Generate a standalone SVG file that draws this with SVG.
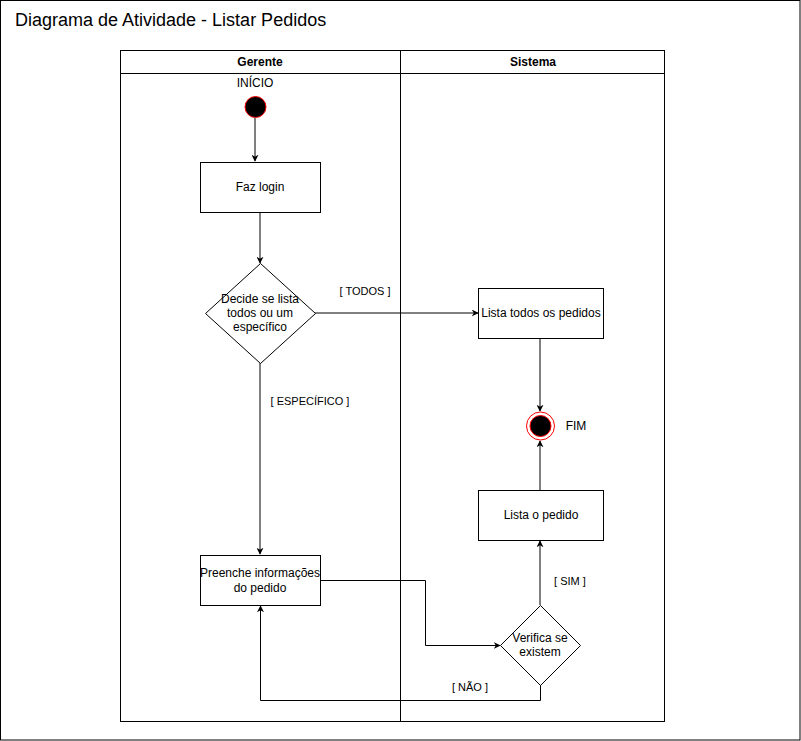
<svg xmlns="http://www.w3.org/2000/svg" width="801" height="741" viewBox="0 0 801 741">
<defs>
<style>
text{font-family:"Liberation Sans",Arial,Helvetica,sans-serif;font-size:12px;fill:#000}
.c{text-anchor:middle;dominant-baseline:central}
.box{fill:#fff;stroke:#000;stroke-width:1}
.edge{fill:none;stroke:#000;stroke-width:1}
.hdr{font-weight:bold;font-size:12px}
</style>
<marker id="arr" viewBox="0 0 10 10" refX="9" refY="5" markerWidth="7" markerHeight="7" orient="auto" markerUnits="userSpaceOnUse">
<path d="M0,0 L10,5 L0,10 L3,5 Z" fill="#000"/>
</marker>
</defs>
<rect x="0" y="0" width="801" height="741" fill="#fff"/>
<rect x="0.5" y="0.5" width="799.5" height="739.5" fill="none" stroke="#000"/>
<text x="15" y="26" style="font-size:18px">Diagrama de Atividade - Listar Pedidos</text>
<g id="pool">
<rect x="120.5" y="50.5" width="544" height="671" class="box"/>
<line x1="120.5" y1="73.5" x2="664.5" y2="73.5" stroke="#000"/>
<line x1="400.5" y1="50.5" x2="400.5" y2="721.5" stroke="#000"/>
<text x="260" y="62" class="c hdr">Gerente</text>
<text x="533" y="62" class="c hdr">Sistema</text>
</g>
<g id="edges">
<line x1="255" y1="118" x2="255" y2="161" class="edge" marker-end="url(#arr)"/>
<line x1="260" y1="212" x2="260" y2="263" class="edge" marker-end="url(#arr)"/>
<line x1="315" y1="313" x2="478" y2="313" class="edge" marker-end="url(#arr)"/>
<line x1="540" y1="338" x2="540" y2="411" class="edge" marker-end="url(#arr)"/>
<line x1="540" y1="490" x2="540" y2="441" class="edge" marker-end="url(#arr)"/>
<line x1="540" y1="605" x2="540" y2="541" class="edge" marker-end="url(#arr)"/>
<line x1="260" y1="363" x2="260" y2="554" class="edge" marker-end="url(#arr)"/>
<polyline points="320,580.5 425.5,580.5 425.5,645.5 500,645.5" class="edge" marker-end="url(#arr)"/>
<polyline points="540.5,685 540.5,700.5 260.5,700.5 260.5,606" class="edge" marker-end="url(#arr)"/>
<text x="365" y="291" class="c" style="font-size:11px">[ TODOS ]</text>
<text x="310" y="401" class="c" style="font-size:11px">[ ESPECÍFICO ]</text>
<text x="570" y="581" class="c" style="font-size:11px">[ SIM ]</text>
<text x="470" y="687" class="c" style="font-size:11px">[ NÃO ]</text>
</g>
<g id="start">
<circle cx="255.5" cy="107" r="10.5" fill="#000" stroke="#ff0000" stroke-width="1"/>
<text x="255" y="83" class="c">INÍCIO</text>
</g>
<g id="fazlogin">
<rect x="200.5" y="162.5" width="120" height="50" class="box"/>
<text x="260" y="187" class="c">Faz login</text>
</g>
<g id="decide">
<polygon points="260.5,263.5 315.5,313.5 260.5,363.5 205.5,313.5" class="box"/>
<text x="260" y="299" class="c">Decide se lista</text>
<text x="260" y="313" class="c">todos ou um</text>
<text x="260" y="327" class="c">específico</text>
</g>
<g id="listatodos">
<rect x="478.5" y="288.5" width="125" height="50" class="box"/>
<text x="541" y="313" class="c">Lista todos os pedidos</text>
</g>
<g id="fim">
<circle cx="540.5" cy="426" r="14" fill="#fff" stroke="#ff0000" stroke-width="1"/>
<circle cx="540.5" cy="426" r="10.5" fill="#000" stroke="#ff0000" stroke-width="1"/>
<text x="576" y="426" class="c">FIM</text>
</g>
<g id="listapedido">
<rect x="478.5" y="490.5" width="125" height="50" class="box"/>
<text x="541" y="515" class="c">Lista o pedido</text>
</g>
<g id="preenche">
<rect x="200.5" y="555.5" width="120" height="50" class="box"/>
<text x="260" y="573" class="c">Preenche informações</text>
<text x="260" y="588" class="c">do pedido</text>
</g>
<g id="verifica">
<polygon points="540.5,605.5 580.5,645.5 540.5,685.5 500.5,645.5" class="box"/>
<text x="540" y="638" class="c">Verifica se</text>
<text x="540" y="652" class="c">existem</text>
</g>
</svg>
